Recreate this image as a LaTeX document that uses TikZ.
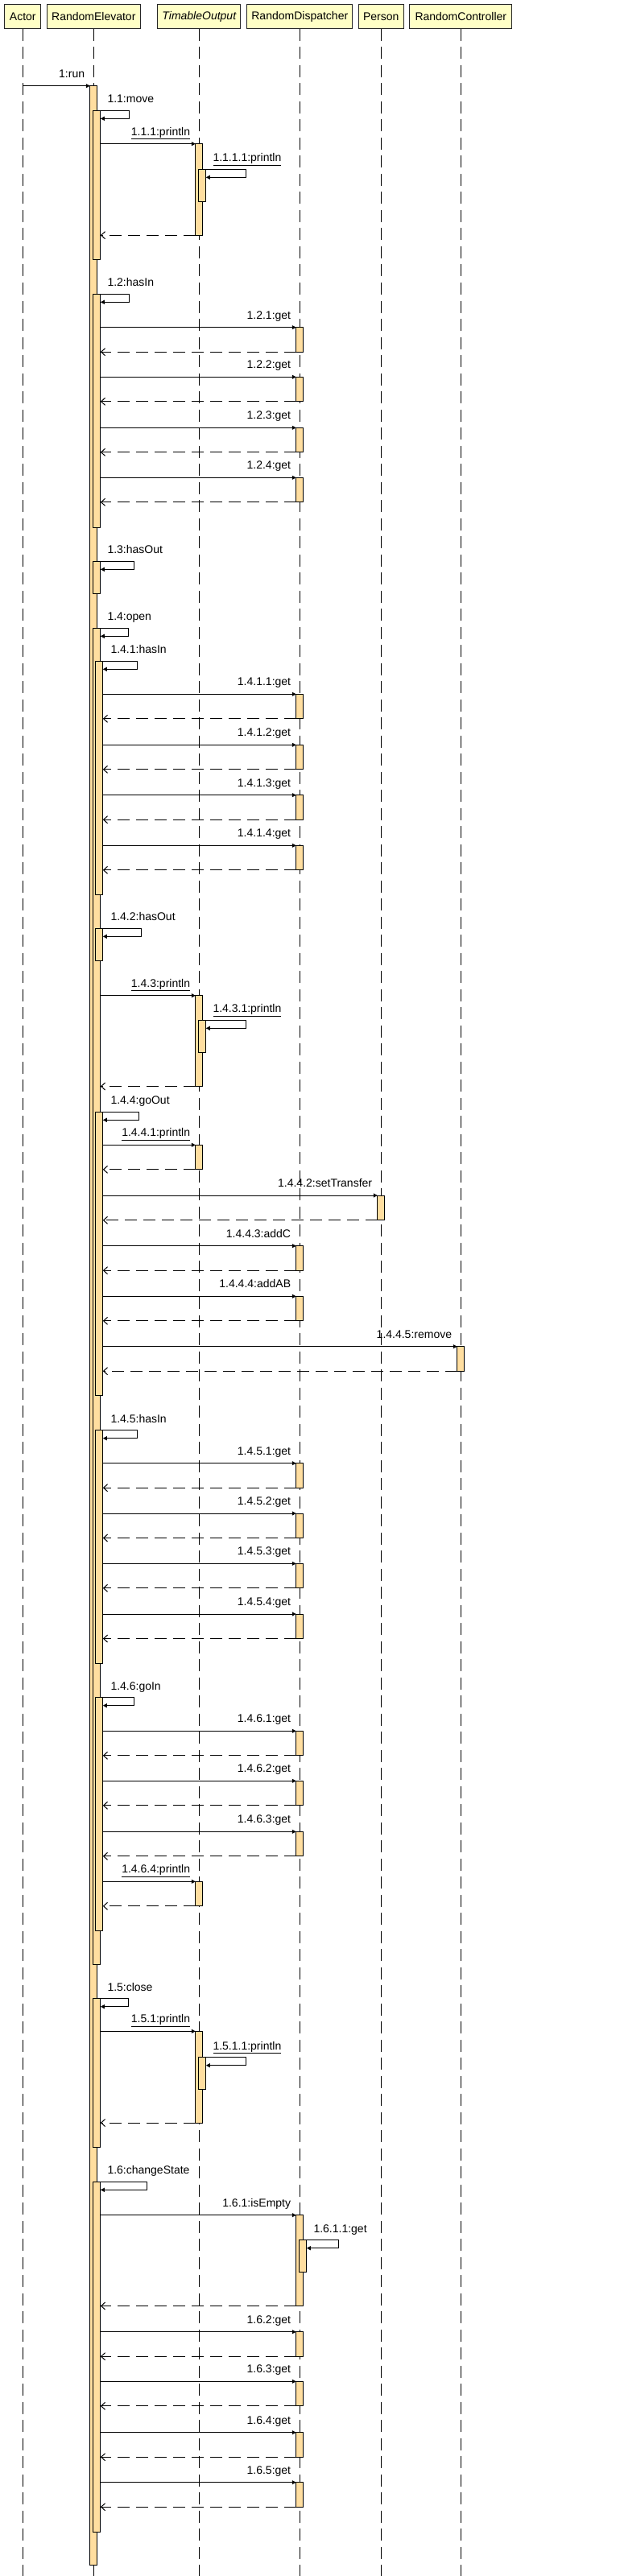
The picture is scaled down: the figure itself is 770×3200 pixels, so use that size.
\documentclass[tikz,border=0pt]{standalone}
\usepackage{fontspec}
\setmainfont{Liberation Sans}
\usetikzlibrary{arrows.meta}
\definecolor{hdrfill}{HTML}{FFFFC6}
\definecolor{barfill}{HTML}{FFDEA0}
\newcommand{\abar}[4]{\node[actbar, minimum height={(#4)-(#3)}] (#1) at (#2,{((#3)+(#4))/2}) {};}
\newcommand{\msg}[3]{\draw[callarrow] (#1.east |- #2.north west) -- (#2.north west);
  \path (#2.north) ++(-11,-10.5) node[msglbl]{#3};}
\newcommand{\ret}[2]{\draw[retarrow] (#2.south west) -- (#1.east |- #2.south west);}
\newcommand{\selfmsg}[4]{\draw[callarrow] (#1.east |- #2.north) -- ++(#3,0) -- ++(0,10) -- ([yshift=-10pt]#2.north east);
  \path (#1.east |- #2.north) ++(12.5,-9.7) node[selflbl]{#4};}
\begin{document}
\begin{tikzpicture}[x=1pt,y=-1pt,
  font=\fontsize{14}{16}\selectfont,
  hdr/.style={draw=black!85, line width=1pt, fill=hdrfill, minimum height=30pt, inner sep=0pt, outer sep=0pt},
  lifeline/.style={draw=black, line width=1pt, dash pattern=on 15pt off 7.5pt},
  actbar/.style={draw=black, line width=1pt, fill=barfill, minimum width=9pt, inner sep=0pt, outer sep=0pt},
  callarrow/.style={draw=black, line width=1pt, -{Triangle[length=5pt,width=5pt]}},
  retarrow/.style={draw=black, line width=1pt, dash pattern=on 15pt off 8pt, -{Straight Barb[length=5pt,width=9pt]}},
  msglbl/.style={anchor=base east, inner sep=0pt},
  selflbl/.style={anchor=base west, inner sep=0pt}]
\useasboundingbox (0,0) rectangle (770,3200);
% headers
\node[hdr, minimum width=44.7pt] (hA) at (28.3,21) {Actor};
\node[hdr, minimum width=116pt] (hRE) at (116.3,21) {RandomElevator};
\node[hdr, minimum width=103pt] (hTO) at (247.3,21) {\itshape TimableOutput};
\node[hdr, minimum width=131.3pt] (hRD) at (372.3,21) {RandomDispatcher};
\node[hdr, minimum width=56pt] (hP) at (473.3,21) {Person};
\node[hdr, minimum width=127pt] (hRC) at (572.3,21) {RandomController};
% lifelines
\foreach \h in {hA,hRE,hTO,hRD,hP,hRC}{\draw[lifeline] (\h.south) -- (\h.south |- 0,3200);}
% RandomElevator bars
\abar{re0}{116.3}{106.7}{3186}
\abar{b11}{120.3}{137.3}{322.7}
\abar{b12}{120.3}{365.3}{655}
\abar{b13}{120.3}{697.3}{737.3}
\abar{b14}{120.3}{780.3}{2440}
\abar{b15}{120.3}{2482.7}{2667.3}
\abar{b16}{120.3}{2710.3}{3145}
\abar{b141}{123.3}{821.3}{1111.3}
\abar{b142}{123.3}{1153.3}{1193.3}
\abar{b144}{123.3}{1381.3}{1733.3}
\abar{b145}{123.3}{1776.7}{2066.3}
\abar{b146}{123.3}{2108.7}{2398.3}
% TimableOutput bars
\abar{t1}{247.3}{178.7}{292.2}
\abar{t1n}{251.3}{210.3}{250.3}
\abar{t2}{247.3}{1236.7}{1349.5}
\abar{t2n}{251.3}{1267.3}{1307.3}
\abar{t3}{247.3}{1422.3}{1452.8}
\abar{t4}{247.3}{2337.3}{2367.8}
\abar{t5}{247.3}{2523.3}{2637}
\abar{t5n}{251.3}{2555.7}{2595.7}
% RandomDispatcher bars
\abar{d1}{372.3}{406.7}{437.2}
\abar{d2}{372.3}{468.3}{498.8}
\abar{d3}{372.3}{531.3}{561.8}
\abar{d4}{372.3}{593.3}{623.8}
\abar{d5}{372.3}{862.3}{892.8}
\abar{d6}{372.3}{925.3}{955.8}
\abar{d7}{372.3}{987.7}{1018.2}
\abar{d8}{372.3}{1050.3}{1080.8}
\abar{d9}{372.3}{1547.7}{1578.2}
\abar{d10}{372.3}{1610.3}{1640.8}
\abar{d11}{372.3}{1817.7}{1848.2}
\abar{d12}{372.3}{1880}{1910.5}
\abar{d13}{372.3}{1942.3}{1972.8}
\abar{d14}{372.3}{2005}{2035.5}
\abar{d15}{372.3}{2150.3}{2180.8}
\abar{d16}{372.3}{2212.3}{2242.8}
\abar{d17}{372.3}{2275.3}{2305.8}
\abar{d18}{372.3}{2751.7}{2864.5}
\abar{d18n}{376.3}{2782.7}{2822.7}
\abar{d19}{372.3}{2896.7}{2927.2}
\abar{d20}{372.3}{2958.3}{2988.8}
\abar{d21}{372.3}{3021.7}{3052.2}
\abar{d22}{372.3}{3083.7}{3114.2}
% Person / RandomController bars
\abar{p1}{473.3}{1485}{1515.8}
\abar{c1}{572.3}{1672.7}{1703.2}
% 1:run
\draw[callarrow] (hA.south |- re0.north west) -- (re0.north west);
\path (re0.north) ++(-11,-10.5) node[msglbl]{1:run};
% 1.1
\selfmsg{re0}{b11}{40}{1.1:move}
\msg{b11}{t1}{\underline{1.1.1:println}}
\selfmsg{t1}{t1n}{54}{\underline{1.1.1.1:println}}
\ret{b11}{t1}
% 1.2
\selfmsg{re0}{b12}{40}{1.2:hasIn}
\msg{b12}{d1}{1.2.1:get}\ret{b12}{d1}
\msg{b12}{d2}{1.2.2:get}\ret{b12}{d2}
\msg{b12}{d3}{1.2.3:get}\ret{b12}{d3}
\msg{b12}{d4}{1.2.4:get}\ret{b12}{d4}
% 1.3
\selfmsg{re0}{b13}{46}{1.3:hasOut}
% 1.4
\selfmsg{re0}{b14}{39}{1.4:open}
\selfmsg{b14}{b141}{46}{1.4.1:hasIn}
\msg{b141}{d5}{1.4.1.1:get}\ret{b141}{d5}
\msg{b141}{d6}{1.4.1.2:get}\ret{b141}{d6}
\msg{b141}{d7}{1.4.1.3:get}\ret{b141}{d7}
\msg{b141}{d8}{1.4.1.4:get}\ret{b141}{d8}
\selfmsg{b14}{b142}{51}{1.4.2:hasOut}
\msg{b14}{t2}{\underline{1.4.3:println}}
\selfmsg{t2}{t2n}{54}{\underline{1.4.3.1:println}}
\ret{b14}{t2}
\selfmsg{b14}{b144}{48}{1.4.4:goOut}
\msg{b144}{t3}{\underline{1.4.4.1:println}}\ret{b144}{t3}
\msg{b144}{p1}{1.4.4.2:setTransfer}\ret{b144}{p1}
\msg{b144}{d9}{1.4.4.3:addC}\ret{b144}{d9}
\msg{b144}{d10}{1.4.4.4:addAB}\ret{b144}{d10}
\msg{b144}{c1}{1.4.4.5:remove}\ret{b144}{c1}
\selfmsg{b14}{b145}{46}{1.4.5:hasIn}
\msg{b145}{d11}{1.4.5.1:get}\ret{b145}{d11}
\msg{b145}{d12}{1.4.5.2:get}\ret{b145}{d12}
\msg{b145}{d13}{1.4.5.3:get}\ret{b145}{d13}
\msg{b145}{d14}{1.4.5.4:get}\ret{b145}{d14}
\selfmsg{b14}{b146}{42}{1.4.6:goIn}
\msg{b146}{d15}{1.4.6.1:get}\ret{b146}{d15}
\msg{b146}{d16}{1.4.6.2:get}\ret{b146}{d16}
\msg{b146}{d17}{1.4.6.3:get}\ret{b146}{d17}
\msg{b146}{t4}{\underline{1.4.6.4:println}}\ret{b146}{t4}
% 1.5
\selfmsg{re0}{b15}{39}{1.5:close}
\msg{b15}{t5}{\underline{1.5.1:println}}
\selfmsg{t5}{t5n}{54}{\underline{1.5.1.1:println}}
\ret{b15}{t5}
% 1.6
\selfmsg{re0}{b16}{62}{1.6:changeState}
\msg{b16}{d18}{1.6.1:isEmpty}
\selfmsg{d18}{d18n}{44}{1.6.1.1:get}
\ret{b16}{d18}
\msg{b16}{d19}{1.6.2:get}\ret{b16}{d19}
\msg{b16}{d20}{1.6.3:get}\ret{b16}{d20}
\msg{b16}{d21}{1.6.4:get}\ret{b16}{d21}
\msg{b16}{d22}{1.6.5:get}\ret{b16}{d22}
\end{tikzpicture}
\end{document}
